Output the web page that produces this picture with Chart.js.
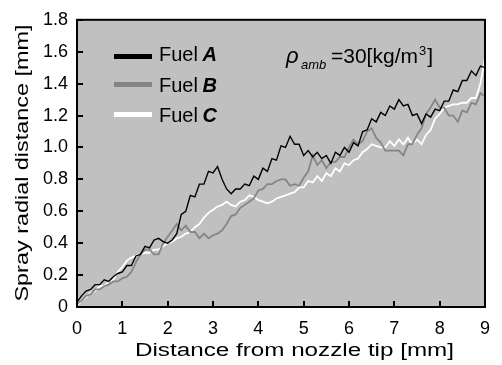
<!DOCTYPE html>
<html>
<head>
<meta charset="utf-8">
<script src="https://cdn.jsdelivr.net/npm/chart.js@4.4.1/dist/chart.umd.min.js"></script>
<style>
  html, body { margin: 0; padding: 0; background: #fff; }
  #wrap { width: 502px; height: 365px; }
</style>
</head>
<body>
<div id="wrap"><canvas id="chart" width="502" height="365"></canvas></div>
<script>
// sample positions along the nozzle axis [mm]
const xs = [
  0.0, 0.1, 0.2, 0.3, 0.4, 0.5, 0.6, 0.7, 0.8, 0.9,
  1.0, 1.1, 1.2, 1.3, 1.4, 1.5, 1.6, 1.7, 1.8, 1.9,
  2.0, 2.1, 2.2, 2.3, 2.4, 2.5, 2.6, 2.7, 2.8, 2.9,
  3.0, 3.1, 3.2, 3.3, 3.4, 3.5, 3.6, 3.7, 3.8, 3.9,
  4.0, 4.1, 4.2, 4.3, 4.4, 4.5, 4.6, 4.7, 4.8, 4.9,
  5.0, 5.1, 5.2, 5.3, 5.4, 5.5, 5.6, 5.7, 5.8, 5.9,
  6.0, 6.1, 6.2, 6.3, 6.4, 6.5, 6.6, 6.7, 6.8, 6.9,
  7.0, 7.1, 7.2, 7.3, 7.4, 7.5, 7.6, 7.7, 7.8, 7.9,
  8.0, 8.1, 8.2, 8.3, 8.4, 8.5, 8.6, 8.7, 8.8, 8.9,
  9.0
];

// spray radial distance [mm]
const fuelA = [
  0.03, 0.07, 0.10, 0.11, 0.14, 0.14, 0.17, 0.16, 0.19, 0.21,
  0.22, 0.26, 0.26, 0.32, 0.33, 0.38, 0.37, 0.42, 0.43, 0.41,
  0.40, 0.42, 0.46, 0.58, 0.60, 0.70, 0.69, 0.77, 0.77, 0.85,
  0.84, 0.88, 0.80, 0.74, 0.71, 0.74, 0.74, 0.77, 0.76, 0.82,
  0.80, 0.87, 0.85, 0.93, 0.92, 1.01, 1.00, 1.07, 1.02, 1.02,
  0.95, 0.98, 0.94, 0.97, 0.93, 0.95, 0.90, 0.97, 0.95, 1.00,
  0.97, 1.03, 1.01, 1.10, 1.11, 1.18, 1.16, 1.22, 1.20, 1.26,
  1.24, 1.30, 1.26, 1.27, 1.20, 1.21, 1.15, 1.21, 1.19, 1.24,
  1.23, 1.29, 1.29, 1.36, 1.35, 1.42, 1.42, 1.48, 1.45, 1.51,
  1.50
];
const fuelB = [
  0.02, 0.04, 0.07, 0.08, 0.11, 0.11, 0.13, 0.14, 0.16, 0.16,
  0.18, 0.19, 0.22, 0.28, 0.33, 0.36, 0.36, 0.33, 0.33, 0.40,
  0.44, 0.48, 0.52, 0.48, 0.51, 0.47, 0.47, 0.43, 0.46, 0.43,
  0.45, 0.46, 0.48, 0.52, 0.57, 0.58, 0.62, 0.64, 0.66, 0.68,
  0.73, 0.74, 0.77, 0.77, 0.79, 0.80, 0.80, 0.76, 0.77, 0.76,
  0.81, 0.85, 0.95, 0.89, 0.92, 0.87, 0.91, 0.91, 0.94, 0.94,
  1.00, 1.05, 1.02, 1.04, 1.10, 1.12, 1.06, 1.03, 0.98, 0.98,
  0.98, 0.98, 0.95, 1.02, 1.02, 1.08, 1.12, 1.21, 1.25, 1.30,
  1.25, 1.25, 1.20, 1.20, 1.16, 1.23, 1.22, 1.28, 1.27, 1.34,
  1.32
];
const fuelC = [
  0.01, 0.04, 0.06, 0.09, 0.10, 0.13, 0.13, 0.16, 0.17, 0.22,
  0.25, 0.29, 0.31, 0.32, 0.33, 0.34, 0.34, 0.36, 0.36, 0.38,
  0.40, 0.41, 0.43, 0.44, 0.46, 0.47, 0.50, 0.52, 0.56, 0.59,
  0.61, 0.63, 0.64, 0.66, 0.64, 0.63, 0.66, 0.67, 0.70, 0.69,
  0.67, 0.66, 0.65, 0.66, 0.68, 0.69, 0.70, 0.71, 0.72, 0.75,
  0.75, 0.79, 0.78, 0.82, 0.79, 0.84, 0.82, 0.87, 0.85, 0.90,
  0.89, 0.92, 0.93, 0.97, 0.99, 1.02, 1.01, 1.00, 1.00, 1.04,
  1.01, 1.05, 1.02, 1.06, 1.02, 1.05, 1.02, 1.08, 1.11, 1.18,
  1.21, 1.25, 1.26, 1.27, 1.27, 1.28, 1.28, 1.31, 1.31, 1.40,
  1.56
];

const seriesNames = ['A', 'B', 'C'];
const seriesColors = ['#000000', '#858585', '#ffffff'];
const yTickLabels = ['0', '0.2', '0.4', '0.6', '0.8', '1.0', '1.2', '1.4', '1.6', '1.8'];
const xTitle = 'Distance from nozzle tip [mm]';
const yTitle = 'Spray radial distance [mm]';

const FONT = "Arial, 'Liberation Sans', sans-serif";

function pts(ys) {
  return xs.map((x, i) => ({ x: x, y: ys[i] }));
}

// draw a string stretched to a given width (the original figure is widened)
function stretchText(ctx, text, width) {
  const w = ctx.measureText(text).width;
  ctx.save();
  ctx.scale(width / w, 1);
  ctx.fillText(text, 0, 0);
  ctx.restore();
}

const framePlugin = {
  id: 'frame',
  beforeDraw(chart) {
    const ctx = chart.ctx;
    const a = chart.chartArea;
    ctx.save();
    ctx.fillStyle = '#ffffff';
    ctx.fillRect(0, 0, chart.width, chart.height);
    ctx.fillStyle = '#c0c0c0';
    ctx.fillRect(a.left, a.top, a.right - a.left, a.bottom - a.top);
    ctx.restore();
  },
  afterDraw(chart) {
    const ctx = chart.ctx;
    const a = chart.chartArea;
    const xScale = chart.scales.x;
    const yScale = chart.scales.y;
    ctx.save();

    // box
    ctx.strokeStyle = '#000';
    ctx.lineWidth = 2;
    ctx.strokeRect(a.left, a.top, a.right - a.left, a.bottom - a.top);

    // inward tick marks
    ctx.lineWidth = 2;
    ctx.beginPath();
    xScale.ticks.forEach(t => {
      const px = Math.round(xScale.getPixelForValue(t.value));
      ctx.moveTo(px, a.bottom);
      ctx.lineTo(px, a.bottom - 6);
    });
    yScale.ticks.forEach(t => {
      const py = Math.round(yScale.getPixelForValue(t.value));
      ctx.moveTo(a.left, py);
      ctx.lineTo(a.left + 6, py);
    });
    ctx.stroke();

    // legend
    const legendY = [56.5, 84.5, 114.5];
    const baseY = [61, 92, 122];
    ctx.textBaseline = 'alphabetic';
    ctx.textAlign = 'left';
    chart.data.datasets.forEach((ds, i) => {
      ctx.strokeStyle = ds.borderColor;
      ctx.lineWidth = 5;
      ctx.beginPath();
      ctx.moveTo(114, legendY[i]);
      ctx.lineTo(152, legendY[i]);
      ctx.stroke();
      ctx.fillStyle = '#000';
      ctx.font = '20px ' + FONT;
      ctx.fillText('Fuel', 159, baseY[i]);
      const w = ctx.measureText('Fuel ').width;
      ctx.font = 'italic bold 20px ' + FONT;
      ctx.fillText(ds.label, 159 + w - 1, baseY[i]);
    });

    // ambient density note
    ctx.fillStyle = '#000';
    ctx.font = 'italic 22px ' + FONT;
    ctx.fillText('\u03c1', 286, 63);
    ctx.font = 'italic 13px ' + FONT;
    ctx.fillText('amb', 301, 69);
    ctx.font = '21px ' + FONT;
    const x0 = 331;
    ctx.fillText('=30[kg/m', x0, 63);
    const w2 = ctx.measureText('=30[kg/m').width;
    ctx.font = '13px ' + FONT;
    ctx.fillText('3', x0 + w2 + 1, 55);
    const w3 = ctx.measureText('3').width;
    ctx.font = '21px ' + FONT;
    ctx.fillText(']', x0 + w2 + w3 + 2, 63);

    // axis titles
    ctx.font = '18px ' + FONT;
    ctx.textAlign = 'center';
    ctx.textBaseline = 'alphabetic';
    ctx.save();
    ctx.translate(294.5, 356);
    stretchText(ctx, xTitle, 319);
    ctx.restore();

    ctx.save();
    ctx.translate(28, 163);
    ctx.rotate(-Math.PI / 2);
    stretchText(ctx, yTitle, 277);
    ctx.restore();

    ctx.restore();
  }
};

const datasets = [fuelA, fuelB, fuelC].map((ys, i) => ({
  label: seriesNames[i],
  data: pts(ys),
  borderColor: seriesColors[i],
  backgroundColor: seriesColors[i],
  borderWidth: i === 0 ? 1.4 : 1.8,
  pointRadius: 0,
  tension: 0,
  fill: false
}));

new Chart(document.getElementById('chart'), {
  type: 'line',
  data: { datasets: datasets },
  options: {
    responsive: false,
    animation: false,
    devicePixelRatio: 1,
    layout: { padding: { top: 19, right: 17, left: 0, bottom: 0 } },
    plugins: {
      legend: { display: false },
      tooltip: { enabled: false }
    },
    scales: {
      x: {
        type: 'linear',
        min: 0,
        max: 9,
        grid: { display: false, drawTicks: false },
        border: { display: false },
        ticks: {
          stepSize: 1,
          padding: 11,
          color: '#000',
          font: { family: FONT, size: 18 },
          maxRotation: 0
        },
        afterFit(scale) { scale.height = 58; }
      },
      y: {
        min: 0,
        max: 1.8,
        grid: { display: false, drawTicks: false },
        border: { display: false },
        ticks: {
          stepSize: 0.2,
          padding: 9,
          color: '#000',
          font: { family: FONT, size: 18 },
          callback: (v, i) => yTickLabels[i]
        },
        afterFit(scale) { scale.width = 77; }
      }
    }
  },
  plugins: [framePlugin]
});
</script>
</body>
</html>
